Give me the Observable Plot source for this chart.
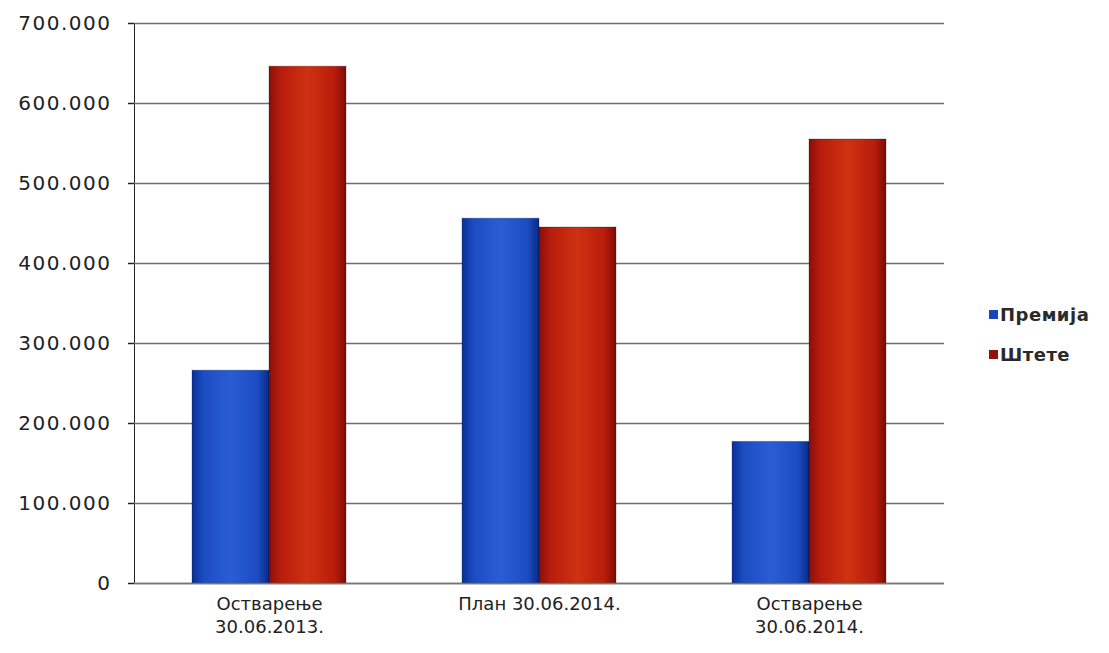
<!DOCTYPE html>
<html>
<head>
<meta charset="utf-8">
<script src="https://cdn.jsdelivr.net/npm/d3@7"></script>
<script src="https://cdn.jsdelivr.net/npm/@observablehq/plot@0.6"></script>
<style>
  body { margin: 0; background: #fff; font-family: "DejaVu Sans", Verdana, sans-serif; }
  #wrap { position: relative; width: 1109px; height: 653px; }
  #chart g[aria-label="y-axis tick label"] { font-size: 20px; letter-spacing: 1.5px; }
  #chart g[aria-label="y-axis tick"], #chart g[aria-label="y-axis line"] { stroke: #777; stroke-width: 1.5px; }
  #legend { position: absolute; left: 989px; top: 295px; font-size: 18px; font-weight: bold; letter-spacing: 0.5px; color: #2a2a2a; line-height: 40px; }
  #legend .sw { display: inline-block; width: 9px; height: 9px; margin-right: 2px; vertical-align: 2px; }
</style>
</head>
<body>
<div id="wrap">
  <div id="chart"></div>
  <div id="legend"></div>
</div>
<script>
const categories = ["Остварење\n30.06.2013.", "План 30.06.2014.", "Остварење\n30.06.2014."];
const seriesNames = ["Премија", "Штете"];
const premija = [266000, 456000, 177000];
const stete = [646000, 445000, 555000];
const yTicks = [0, 100000, 200000, 300000, 400000, 500000, 600000, 700000];
const seriesColors = ["#1a47b8", "#8e1208"];

const data = [];
categories.forEach((c, i) => {
  data.push({cat: c, series: seriesNames[0], value: premija[i]});
  data.push({cat: c, series: seriesNames[1], value: stete[i]});
});

const fmt = d => d3.format(",")(d).replace(/,/g, ".");

const chart = Plot.plot({
  width: 1109,
  height: 653,
  marginLeft: 133,
  marginRight: 164,
  marginTop: 23,
  marginBottom: 70,
  style: {fontSize: "17px", fontFamily: "DejaVu Sans, Verdana, sans-serif", color: "#222", background: "#fff"},
  fx: {domain: categories, padding: 0, label: null},
  x: {domain: seriesNames, paddingInner: 0, paddingOuter: 0.75, axis: null},
  y: {domain: [0, 700000], ticks: yTicks, tickFormat: fmt, label: null, tickSize: 6, tickPadding: 17, line: true},
  color: {domain: seriesNames, range: ["url(#gBlue)", "url(#gRed)"]},
  marks: [
    Plot.ruleY(yTicks, {stroke: "#6e6e6e", strokeWidth: 1.6}),
    Plot.barY(data, {fx: "cat", x: "series", y: "value", fill: "series", stroke: "#00000040", strokeWidth: 1}),
    Plot.ruleY([0], {stroke: "#777", strokeWidth: 1.5}),
    Plot.axisFx({anchor: "bottom", label: null, tickSize: 0, tickPadding: 11, lineHeight: 1.25, fontSize: 18})
  ]
});

const svgNS = "http://www.w3.org/2000/svg";
const defs = document.createElementNS(svgNS, "defs");
defs.innerHTML = `
  <linearGradient id="gBlue" x1="0" x2="1" y1="0" y2="0">
    <stop offset="0" stop-color="#0b2f96"/>
    <stop offset="0.15" stop-color="#1c4cc2"/>
    <stop offset="0.5" stop-color="#2a5dd4"/>
    <stop offset="0.85" stop-color="#1c4cc2"/>
    <stop offset="1" stop-color="#0a2a88"/>
  </linearGradient>
  <linearGradient id="gRed" x1="0" x2="1" y1="0" y2="0">
    <stop offset="0" stop-color="#8a0f08"/>
    <stop offset="0.15" stop-color="#b81c0c"/>
    <stop offset="0.5" stop-color="#cf3210"/>
    <stop offset="0.85" stop-color="#b81c0c"/>
    <stop offset="1" stop-color="#7d0c06"/>
  </linearGradient>`;
chart.insertBefore(defs, chart.firstChild);
document.getElementById("chart").appendChild(chart);

const legend = document.getElementById("legend");
seriesNames.forEach((s, i) => {
  const row = document.createElement("div");
  row.innerHTML = `<span class="sw" style="background:${seriesColors[i]}"></span>${s}`;
  legend.appendChild(row);
});
</script>
</body>
</html>
